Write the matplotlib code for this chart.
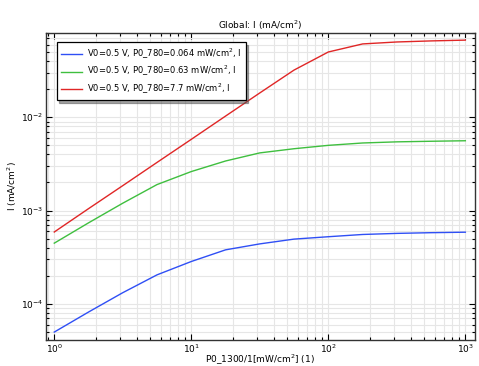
"""Global current density I vs P0_1300 for three P0_780 levels (log-log)."""

import numpy as np
import matplotlib.pyplot as plt
from matplotlib.ticker import LogLocator, NullFormatter

# sweep of P0_1300 (mW/cm^2), 4 points per decade
p0_1300 = [1.0, 1.78, 3.16, 5.62, 10.0, 17.8, 31.6, 56.2, 100.0, 178.0, 316.0, 562.0, 1000.0]

# current density I (mA/cm^2)
i_p064 = [5.0e-5, 8.2e-5, 1.32e-4, 2.05e-4, 2.85e-4, 3.8e-4, 4.4e-4, 4.95e-4,
          5.25e-4, 5.55e-4, 5.7e-4, 5.8e-4, 5.87e-4]
i_p63 = [4.48e-4, 7.4e-4, 1.2e-3, 1.9e-3, 2.62e-3, 3.4e-3, 4.15e-3, 4.6e-3,
         5.0e-3, 5.3e-3, 5.45e-3, 5.53e-3, 5.6e-3]
i_p77 = [5.9e-4, 1.05e-3, 1.85e-3, 3.28e-3, 5.8e-3, 1.03e-2, 1.82e-2, 3.2e-2,
         5.0e-2, 6.1e-2, 6.4e-2, 6.57e-2, 6.7e-2]

labels = [
    "V0=0.5 V, P0_780=0.064 mW/cm$^2$, I",
    "V0=0.5 V, P0_780=0.63 mW/cm$^2$, I",
    "V0=0.5 V, P0_780=7.7 mW/cm$^2$, I",
]
colors = ["#2f4ff5", "#3fbf3f", "#e02626"]


def main():
    plt.rcParams["font.family"] = "DejaVu Sans"
    plt.rcParams["mathtext.fontset"] = "dejavusans"
    fs = 6.5

    fig = plt.figure(figsize=(4.79, 3.66), dpi=100)
    ax = fig.add_axes([0.096, 0.071, 0.895, 0.84])

    for y, lab, c in zip([i_p064, i_p63, i_p77], labels, colors):
        ax.plot(p0_1300, y, color=c, linewidth=1.0, label=lab)

    ax.set_xscale("log")
    ax.set_yscale("log")
    ax.set_xlim(0.87, 1170)
    ax.set_ylim(4.11e-5, 0.0807)

    for axis in (ax.xaxis, ax.yaxis):
        axis.set_major_locator(LogLocator(base=10))
        axis.set_minor_locator(LogLocator(base=10, subs=np.arange(2, 10)))
        axis.set_minor_formatter(NullFormatter())

    ax.grid(True, which="both", color="#e6e6e6", linewidth=0.8)
    ax.set_axisbelow(True)
    ax.tick_params(which="both", direction="in", top=True, right=True,
                   labelsize=fs, width=0.8, color="black", pad=2)
    ax.tick_params(which="major", length=4)
    ax.tick_params(which="minor", length=2.5)
    for sp in ax.spines.values():
        sp.set_linewidth(1.0)
        sp.set_color("#333333")

    ax.set_title("Global: I (mA/cm$^2$)", fontsize=fs, pad=2.5)
    ax.set_xlabel("P0_1300/1[mW/cm$^2$] (1)", fontsize=fs, labelpad=-2)
    ax.set_ylabel("I (mA/cm$^2$)", fontsize=fs, labelpad=1)

    leg = ax.legend(loc="upper left", bbox_to_anchor=(0.025, 0.969), fontsize=6.0,
                    frameon=True, fancybox=False, shadow=True, handlelength=2.5,
                    handletextpad=0.55, borderpad=0.55, labelspacing=0.4,
                    borderaxespad=0)
    leg.get_frame().set_edgecolor("black")
    leg.get_frame().set_linewidth(0.9)

    fig.savefig("out.png", dpi=100)


if __name__ == "__main__":
    main()
